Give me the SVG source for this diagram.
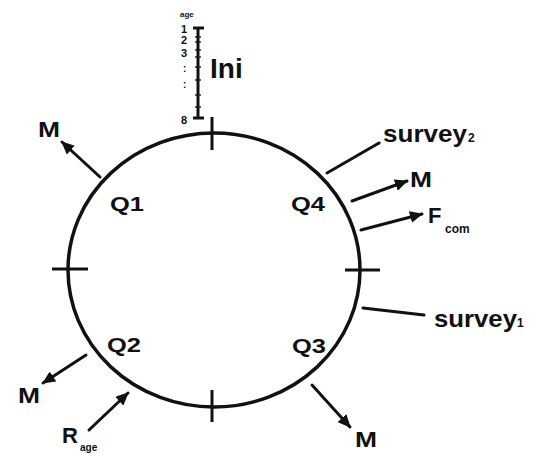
<svg xmlns="http://www.w3.org/2000/svg" width="533" height="454" viewBox="0 0 533 454">
<style>
text{font-family:"Liberation Sans",Arial,sans-serif;font-weight:bold;fill:#111}
.lbl{font-size:22px}
.q{font-size:21px}
.sub{font-size:12px}
.ax{font-size:10px}
.ln{stroke:#111;stroke-width:3;fill:none;stroke-linecap:round}
.tk{stroke:#111;stroke-width:3;fill:none}
</style>
<defs>
<marker id="ah" markerUnits="userSpaceOnUse" markerWidth="14" markerHeight="12" refX="12" refY="6" orient="auto">
<path d="M0,0 L13,6 L0,12 Z" fill="#111"/>
</marker>
</defs>
<rect width="533" height="454" fill="#fff"/>
<g id="cycle">
<ellipse cx="214" cy="270" rx="146" ry="137" stroke="#111" stroke-width="3.5" fill="none"/>
<line class="tk" x1="212" y1="117" x2="212" y2="150"/>
<line class="tk" x1="212" y1="390" x2="212" y2="422"/>
<line class="tk" x1="52" y1="269" x2="88" y2="269"/>
<line class="tk" x1="345" y1="270" x2="380" y2="270"/>
</g>
<g id="age-scale">
<line class="tk" x1="198" y1="28" x2="198" y2="118" stroke-width="2"/>
<line class="tk" x1="193" y1="28" x2="204" y2="28" stroke-width="2"/>
<line class="tk" x1="193" y1="118" x2="204" y2="118" stroke-width="2"/>
<g stroke="#111" stroke-width="1.3">
<line x1="195" y1="37" x2="201" y2="37"/>
<line x1="195" y1="42" x2="201" y2="42"/>
<line x1="195" y1="50" x2="201" y2="50"/>
<line x1="195" y1="57" x2="201" y2="57"/>
<line x1="195" y1="67" x2="201" y2="67"/>
<line x1="195" y1="80" x2="201" y2="80"/>
<line x1="195" y1="95" x2="201" y2="95"/>
<line x1="195" y1="107" x2="201" y2="107"/>
</g>
<text x="180" y="17" style="font-size:8px">age</text>
<text class="ax" x="181" y="33" style="font-size:11px">1</text>
<text class="ax" x="181" y="44" style="font-size:11px">2</text>
<text class="ax" x="181" y="57" style="font-size:11px">3</text>
<text class="ax" x="183" y="72">:</text>
<text class="ax" x="183" y="88">:</text>
<text class="ax" x="181" y="124" style="font-size:11px">8</text>
<text x="210" y="78" style="font-size:28px">Ini</text>
</g>
<g id="connectors">
<line class="ln" x1="100" y1="177" x2="62" y2="142" marker-end="url(#ah)"/>
<line class="ln" x1="327" y1="173" x2="379" y2="143"/>
<line class="ln" x1="352" y1="201" x2="407" y2="181" marker-end="url(#ah)"/>
<line class="ln" x1="361" y1="230" x2="422" y2="214" marker-end="url(#ah)"/>
<line class="ln" x1="363" y1="308" x2="424" y2="315"/>
<line class="ln" x1="312" y1="385" x2="350" y2="427" marker-end="url(#ah)"/>
<line class="ln" x1="86" y1="355" x2="43" y2="383" marker-end="url(#ah)"/>
<line class="ln" x1="89" y1="430" x2="128" y2="393" marker-end="url(#ah)"/>
</g>
<g id="quarters">
<text class="q" x="110" y="211" textLength="34" lengthAdjust="spacingAndGlyphs">Q1</text>
<text class="q" x="291" y="211" textLength="34" lengthAdjust="spacingAndGlyphs">Q4</text>
<text class="q" x="107" y="352" textLength="34" lengthAdjust="spacingAndGlyphs">Q2</text>
<text class="q" x="292" y="353" textLength="34" lengthAdjust="spacingAndGlyphs">Q3</text>
</g>
<g id="labels">
<text class="lbl" x="38" y="137" textLength="22" lengthAdjust="spacingAndGlyphs">M</text>
<text class="lbl" x="410" y="187" textLength="22" lengthAdjust="spacingAndGlyphs">M</text>
<text class="lbl" x="355" y="447" textLength="22" lengthAdjust="spacingAndGlyphs">M</text>
<text class="lbl" x="18" y="403" textLength="22" lengthAdjust="spacingAndGlyphs">M</text>
<text class="lbl" x="428" y="223">F</text>
<text class="sub" x="445" y="233">com</text>
<text x="383" y="142" style="font-size:24px" textLength="84" lengthAdjust="spacingAndGlyphs">survey</text>
<text class="sub" x="468" y="142">2</text>
<text x="434" y="327" style="font-size:24px" textLength="83" lengthAdjust="spacingAndGlyphs">survey</text>
<text class="sub" x="517" y="327">1</text>
<text class="lbl" x="62" y="443">R</text>
<text x="80" y="451" style="font-size:10px">age</text>
</g>
</svg>
